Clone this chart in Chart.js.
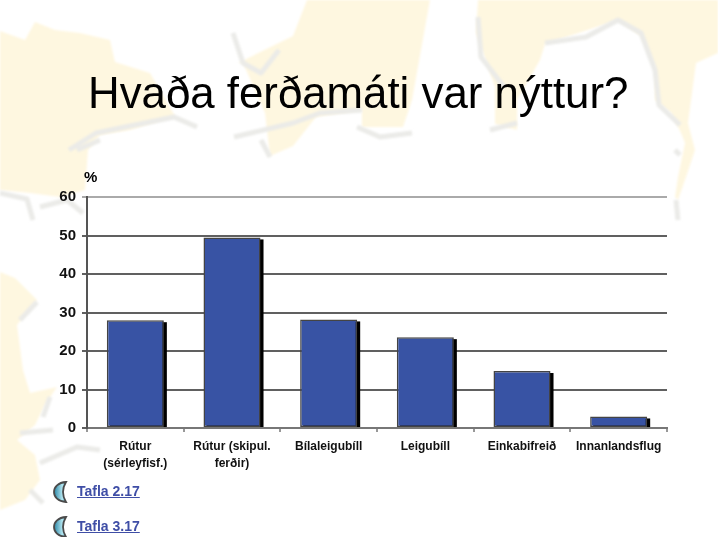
<!DOCTYPE html>
<html>
<head>
<meta charset="utf-8">
<title>Hvaða ferðamáti var nýttur?</title>
<script src="https://cdn.jsdelivr.net/npm/chart.js@4"></script>
<style>
  html, body { margin: 0; padding: 0; background: #fff; }
  body { position: relative; width: 718px; height: 537px; overflow: hidden; font-family: "Liberation Sans", Arial, sans-serif; }
  #map, #chartBox, h1, .unit, .row { position: absolute; }
  #map { left: 0; top: 0; }
  #chartBox { left: 0; top: 0; width: 718px; height: 537px; }
  h1 { left: 88px; top: 66px; margin: 0; font-size: 43.8px; font-weight: normal; line-height: 54px; color: #000; white-space: nowrap; }
  .unit { left: 84px; top: 168px; font-size: 15px; font-weight: bold; color: #000; }
  .row { left: 53px; height: 22px; }
  .row svg { position: absolute; left: 0; top: 0; }
  .row a { position: absolute; left: 24px; top: 2px; font-size: 14px; line-height: 16px; font-weight: bold; color: #3f4ea6; white-space: nowrap; }
</style>
</head>
<body>
<svg id="map" width="718" height="537" viewBox="0 0 718 537">
  <defs><filter id="soft"><feGaussianBlur stdDeviation="0.8"/></filter></defs>
  <g filter="url(#soft)" fill="#fef7e0">
    <path d="M0 31L25 40L35 22L55 30L80 33L110 40L115 62L150 73L175 116L130 130L100 135L88 150L85 190L60 197L30 193L0 190Z"/>
    <path d="M238 63L293 36L307 0L430 0L412 100L403 127L362 127L362 110L316 117L293 146L270 156L265 113L243 63Z"/>
    <path d="M478 0L718 0L718 53L696 63L688 123L695 150L685 180L678 200L675 197L678 177L685 143L681 133L671 113L655 100L655 67L641 36L618 20L545 44L540 60L517 100L517 130L495 124L495 87L476 33Z"/>
    <path d="M0 272L15 278L37 300L17 325L23 370L30 393L57 387L45 405L35 425L17 440L35 455L40 480L25 500L0 510Z"/>
  </g>
  <g filter="url(#soft)" fill="none" stroke="#ebebe8" stroke-width="5" stroke-linejoin="round">
    <path d="M0 193L27 199L33 220M40 207L67 200L83 213M77 150L100 140"/>
    <path d="M69 150L96 133L174 117L197 127"/>
    <path d="M233 33L243 63L261 73L279 50"/>
    <path d="M234 137L293 123L320 113L362 110M357 127L380 137L412 133M261 140L270 157"/>
    <path d="M478 17L481 57L504 87M490 130L517 123M545 43L586 37L618 20L641 33L655 70L659 105L680 125M675 150L680 155M676 200L678 220"/>
    <path d="M37 302L20 320M50 397L43 417M20 433L53 430M40 463L77 447L100 450M30 490L43 503"/>
  </g>
</svg>
<div id="chartBox"><canvas id="ferdChart" width="718" height="537"></canvas></div>
<h1>Hvaða ferðamáti var nýttur?</h1>
<div class="unit">%</div>
<div class="row" style="top:481px">
  <svg width="15" height="22" viewBox="0 0 15 22"><defs><linearGradient id="moon" x1="0" x2="1"><stop offset="0" stop-color="#2a86a6"/><stop offset="0.7" stop-color="#b4e6f0"/><stop offset="1" stop-color="#4fb0ca"/></linearGradient></defs><path d="M13 1C5 1.5 1 6 1 11S5 20.5 13 21C10.5 17 10 14 10 11S10.5 5 13 1Z" fill="url(#moon)" stroke="#4a4a4a" stroke-width="1.8"/></svg>
  <a href="#">Tafla 2.17</a>
</div>
<div class="row" style="top:516px">
  <svg width="15" height="22" viewBox="0 0 15 22"><path d="M13 1C5 1.5 1 6 1 11S5 20.5 13 21C10.5 17 10 14 10 11S10.5 5 13 1Z" fill="url(#moon)" stroke="#4a4a4a" stroke-width="1.8"/></svg>
  <a href="#">Tafla 3.17</a>
</div>
<script>
const categories = [
  ["Rútur", "(sérleyfisf.)"],
  ["Rútur (skipul.", "ferðir)"],
  "Bílaleigubíll",
  "Leigubíll",
  "Einkabifreið",
  "Innanlandsflug"
];
const shares = [28, 49.5, 28.2, 23.6, 14.8, 3];

// white plot area and the hard black bar shadow, placed from each bar element
const plotStyle = {
  id: "plotStyle",
  beforeDraw(chart) {
    const a = chart.chartArea;
    chart.ctx.fillStyle = "#fff";
    chart.ctx.fillRect(a.left, a.top, a.width, a.height);
  },
  beforeDatasetsDraw(chart) {
    const ctx = chart.ctx;
    ctx.fillStyle = "#000";
    chart.getDatasetMeta(0).data.forEach(function (bar) {
      const p = bar.getProps(["x", "y", "base", "width"], true);
      ctx.fillRect(p.x - p.width / 2 + 3, p.y + 2, p.width, p.base - p.y - 2);
    });
  }
};

new Chart("ferdChart", {
  type: "bar",
  data: {
    labels: categories,
    datasets: [{
      data: shares,
      backgroundColor: "#3853a4",
      borderColor: "#444",
      borderWidth: 1.5,
      borderSkipped: false,
      categoryPercentage: 0.59,
      barPercentage: 1
    }]
  },
  plugins: [plotStyle],
  options: {
    responsive: false,
    animation: false,
    layout: { padding: { top: 197, right: 51, left: 0, bottom: 0 } },
    plugins: { legend: { display: false }, title: { display: false }, tooltip: { enabled: false } },
    scales: {
      x: {
        afterFit(scale) { scale.height = 109; },
        border: { color: "#777", width: 2 },
        grid: {
          offset: true,
          color(c) { return c.index === 6 ? "#aaa" : "rgba(0,0,0,0)"; },
          tickColor: "#333",
          lineWidth: 2,
          tickWidth: 1,
          tickLength: 4
        },
        ticks: {
          color: "#111",
          font: { family: "Liberation Sans", size: 12, weight: "bold", lineHeight: 1.4 },
          padding: 6,
          maxRotation: 0,
          autoSkip: false
        }
      },
      y: {
        min: 0,
        max: 60,
        afterFit(scale) { scale.width = 87; },
        border: { color: "#555", width: 2 },
        grid: {
          color(c) { return c.tick && c.tick.value === 60 ? "#aaa" : "#606060"; },
          lineWidth: 2,
          tickLength: 5,
          tickWidth: 2
        },
        ticks: {
          stepSize: 10,
          color: "#111",
          font: { family: "Liberation Sans", size: 15, weight: "bold" },
          padding: 6
        }
      }
    }
  }
});
</script>
</body>
</html>
